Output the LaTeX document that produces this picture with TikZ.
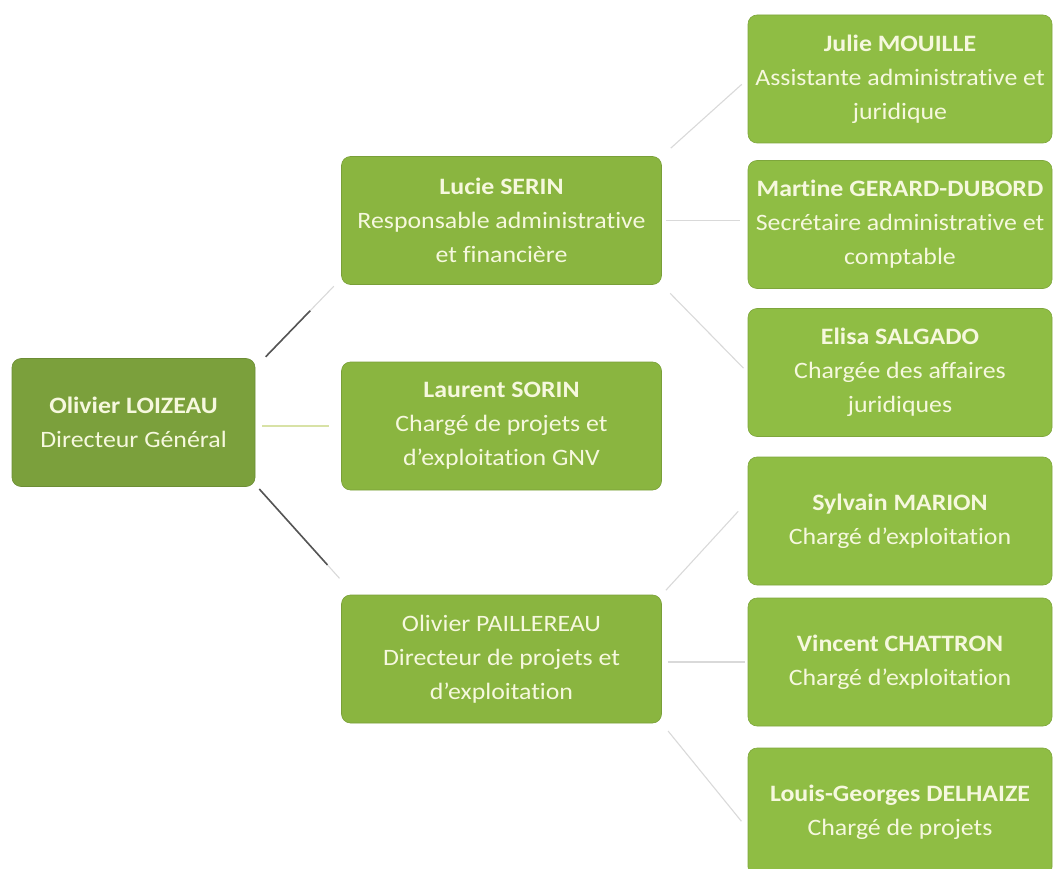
\documentclass[tikz,border=0pt]{standalone}
\usepackage{fontspec}
\setmainfont{Carlito}[FakeStretch=1.1, Ligatures={TeX,CommonOff}]
\usepackage{tikz}

\definecolor{rootgreen}{HTML}{7BA03C}
\definecolor{midgreen}{HTML}{8AB540}
\definecolor{leafgreen}{HTML}{8FBD44}
\definecolor{txtcol}{HTML}{F6F8DE}
\definecolor{linkdark}{HTML}{555555}
\definecolor{linklight}{HTML}{D9D9D9}
\definecolor{linkgreen}{HTML}{D8E2A6}

\begin{document}
\begin{tikzpicture}[x=1pt,y=1pt,
    box/.style={rounded corners=9pt, draw=#1!88!black, fill=#1, line width=0.6pt,
        text=txtcol, align=flush center, minimum height=128pt, inner ysep=0pt,
        font=\fontsize{23.5}{34}\selectfont},
    rootbox/.style={box=rootgreen, text width=233pt, inner xsep=5pt},
    midbox/.style={box=midgreen, text width=310pt, inner xsep=5pt},
    leafbox/.style={box=leafgreen, text width=300pt, inner xsep=2pt},
    link/.style={line width=1.1pt, linklight},
    darklink/.style={line width=1.6pt, linkdark}]

\clip (0,0) rectangle (1055,-869);

% =========================
% Director
% =========================
\node[rootbox] (loizeau) at (133.5,-422.5)
    {\textbf{Olivier LOIZEAU}\\Directeur Général};

% =========================
% Second level
% =========================
\node[midbox] (serin) at (501.5,-220.5)
    {\textbf{Lucie SERIN}\\Responsable administrative\\et financière};
\node[midbox] (sorin) at (501.5,-426)
    {\textbf{Laurent SORIN}\\Chargé de projets et\\d'exploitation GNV};
\node[midbox] (paillereau) at (501.5,-659)
    {Olivier PAILLEREAU\\Directeur de projets et\\d'exploitation};

% =========================
% Third level
% =========================
\node[leafbox] (mouille) at (900,-79)
    {\textbf{Julie MOUILLE}\\Assistante administrative et\\juridique};
\node[leafbox] (gerard) at (900,-224.5)
    {\textbf{Martine GERARD-DUBORD}\\Secrétaire administrative et\\comptable};
\node[leafbox] (salgado) at (900,-372.5)
    {\textbf{Elisa SALGADO}\\Chargée des affaires\\juridiques};
\node[leafbox] (marion) at (900,-521)
    {\textbf{Sylvain MARION}\\Chargé d'exploitation};
\node[leafbox] (chattron) at (900,-662)
    {\textbf{Vincent CHATTRON}\\Chargé d'exploitation};
\node[leafbox] (delhaize) at (900,-812)
    {\textbf{Louis-Georges DELHAIZE}\\Chargé de projets};

% Links from the director
\draw[link, shorten <=2pt, shorten >=2pt] ([xshift=9pt]loizeau.north east) -- ([xshift=-6pt]serin.south west);
\draw[darklink, shorten <=2pt, shorten >=36pt] ([xshift=9pt]loizeau.north east) -- ([xshift=-6pt]serin.south west);
\draw[line width=1.4pt, linkgreen, shorten <=7pt, shorten >=12pt] (loizeau.east |- sorin.west) -- (sorin.west);
\draw[link, shorten <=3pt, shorten >=22pt] ([xshift=2pt]loizeau.south east) -- ([xshift=13pt]paillereau.north west);
\draw[darklink, shorten <=3pt, shorten >=40pt] ([xshift=2pt]loizeau.south east) -- ([xshift=13pt]paillereau.north west);

% Links from Lucie SERIN
\draw[link, shorten <=12pt, shorten >=8pt] (serin.north east) -- (mouille.west);
\draw[link, shorten <=4pt, shorten >=8pt] (serin.east) -- (serin.east -| gerard.west);
\draw[link, shorten <=12pt, shorten >=6pt] (serin.south east) -- (salgado.west);

% Links from Olivier PAILLEREAU
\draw[link, shorten <=6pt, shorten >=14pt] (paillereau.north east) -- ([yshift=20pt]marion.west);
\draw[link, shorten <=6pt, shorten >=3pt] (paillereau.east |- chattron.west) -- (chattron.west);
\draw[link, shorten <=10pt, shorten >=10pt] (paillereau.south east) -- ([yshift=-17pt]delhaize.west);

\end{tikzpicture}
\end{document}
